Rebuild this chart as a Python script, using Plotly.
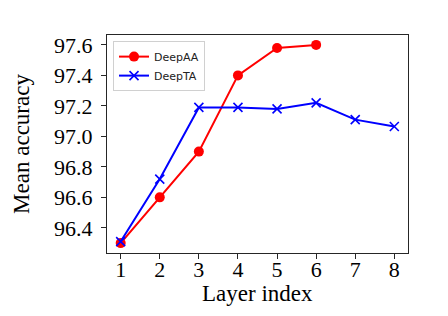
import plotly.graph_objects as go

layers_aa = [1, 2, 3, 4, 5, 6]
deepaa = [96.30, 96.60, 96.90, 97.40, 97.58, 97.60]
layers_ta = [1, 2, 3, 4, 5, 6, 7, 8]
deepta = [96.31, 96.72, 97.19, 97.19, 97.18, 97.22, 97.11, 97.065]
x_ticks = [1, 2, 3, 4, 5, 6, 7, 8]
y_ticks = [96.4, 96.6, 96.8, 97.0, 97.2, 97.4, 97.6]

fig = go.Figure()
fig.add_trace(go.Scatter(
    x=layers_aa, y=deepaa, name="DeepAA", mode="lines+markers",
    line=dict(color="#ff0000", width=2),
    marker=dict(symbol="circle", size=10, color="#ff0000"),
))
fig.add_trace(go.Scatter(
    x=layers_ta, y=deepta, name="DeepTA", mode="lines+markers",
    line=dict(color="#0000ff", width=2),
    marker=dict(symbol="x-thin", size=9, color="#0000ff",
                line=dict(color="#0000ff", width=1.6)),
))

serif = "Liberation Serif, Times New Roman, serif"
fig.update_layout(
    width=448, height=316,
    margin=dict(l=107, r=40, t=35, b=63, pad=0),
    paper_bgcolor="white", plot_bgcolor="white",
    showlegend=True,
    legend=dict(
        x=0.02, y=0.972, xanchor="left", yanchor="top",
        bgcolor="rgba(255,255,255,0.8)", bordercolor="#d0d0d0", borderwidth=1,
        font=dict(family="DejaVu Sans", size=11, color="#222"),
        tracegroupgap=0, itemwidth=30,
    ),
    xaxis=dict(
        range=[0.65, 8.35], tickvals=x_ticks, ticktext=[str(v) for v in x_ticks],
        showgrid=False, zeroline=False, automargin=False,
        showline=True, linecolor="#262626", linewidth=1, mirror=True,
        ticks="outside", ticklen=5, tickcolor="#262626", ticklabelstandoff=-8,
        tickfont=dict(family=serif, size=22, color="black"),
    ),
    yaxis=dict(
        range=[96.235, 97.665], tickvals=y_ticks, ticktext=[f"{v:.1f}" for v in y_ticks],
        showgrid=False, zeroline=False, automargin=False,
        showline=True, linecolor="#262626", linewidth=1, mirror=True,
        ticks="outside", ticklen=5, tickcolor="#262626", ticklabelstandoff=4,
        tickfont=dict(family=serif, size=22, color="black"),
        title=dict(text="Mean accuracy", font=dict(family=serif, size=23, color="black"), standoff=18),
    ),
)
fig.add_annotation(
    text="Layer index", xref="paper", yref="paper", x=0.5, y=-0.185,
    xanchor="center", yanchor="middle", showarrow=False,
    font=dict(family=serif, size=23, color="black"),
)

fig.write_html("out.html", config={"displayModeBar": False},
               post_script="document.body.style.margin='0';document.body.style.overflow='hidden';")
